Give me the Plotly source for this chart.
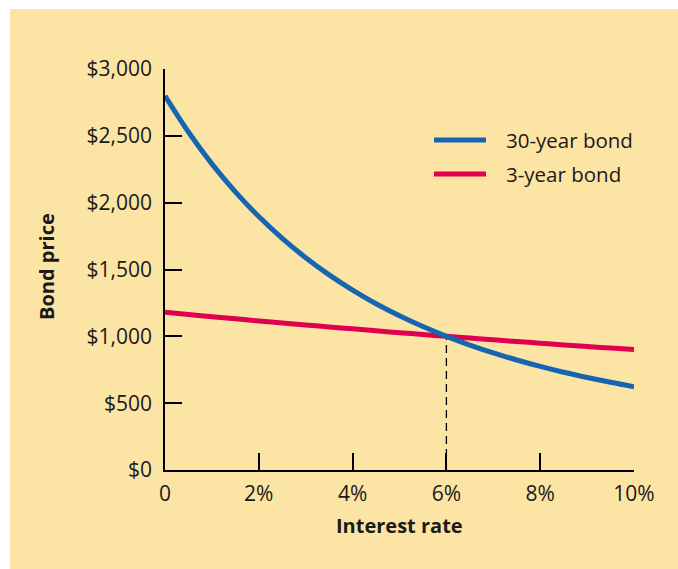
import plotly.graph_objects as go

# Interest rates (percent) and bond prices for a 6% coupon, $1,000 face bond
rates = [0, 0.5, 1, 1.5, 2, 2.5, 3, 3.5, 4, 4.5, 5, 5.5, 6, 6.5, 7, 7.5, 8, 8.5, 9, 9.5, 10]
price_30yr = [2800, 2529, 2290, 2081, 1896, 1733, 1588, 1460, 1346, 1244, 1154, 1073, 1000,
              935, 876, 823, 775, 731, 692, 656, 623]
price_3yr = [1180, 1163, 1147, 1131, 1115, 1100, 1085, 1070, 1056, 1041, 1027, 1014, 1000,
             987, 974, 961, 949, 936, 924, 912, 901]

x_ticks = [0, 2, 4, 6, 8, 10]
x_labels = ["0", "2%", "4%", "6%", "8%", "10%"]
y_ticks = [0, 500, 1000, 1500, 2000, 2500, 3000]
y_labels = ["$0", "$500", "$1,000", "$1,500", "$2,000", "$2,500", "$3,000"]

par_rate = 6
par_price = 1000

BG = "#FCE4A5"
BLUE = "#1565B2"
RED = "#E1004F"
INK = "#1a1a1a"
FONT = "Open Sans, Liberation Sans, Arial, sans-serif"

# plot area in pixels: left 165, right 634, top 69, bottom 470
PL, PR, PT, PB = 165, 634, 69, 470
PW, PH = PR - PL, PB - PT


def px(xp):
    return (xp - PL) / PW


def py(yp):
    return (PB - yp) / PH


fig = go.Figure()

# dashed drop line at the coupon rate
fig.add_trace(go.Scatter(
    x=[par_rate, par_rate], y=[0, par_price], mode="lines",
    line=dict(color="black", width=1.3, dash="8px,5px"),
    showlegend=False, hoverinfo="skip"))

fig.add_trace(go.Scatter(
    x=rates, y=price_3yr, mode="lines", name="3-year bond",
    line=dict(color=RED, width=5, shape="spline"), showlegend=False))
fig.add_trace(go.Scatter(
    x=rates, y=price_30yr, mode="lines", name="30-year bond",
    line=dict(color=BLUE, width=5, shape="spline"), showlegend=False))

# legend drawn as sample lines with labels
legend_items = [("30-year bond", BLUE, 140), ("3-year bond", RED, 174)]
for label, color, ypix in legend_items:
    fig.add_shape(type="line", xref="paper", yref="paper",
                  x0=px(434), x1=px(486), y0=py(ypix), y1=py(ypix),
                  line=dict(color=color, width=5))
    fig.add_annotation(text=label, xref="paper", yref="paper",
                       x=px(504), y=py(ypix),
                       xanchor="left", yanchor="middle", showarrow=False,
                       font=dict(family=FONT, size=20.5, color=INK))

# axis titles
fig.add_annotation(text="<b>Interest rate</b>", xref="paper", yref="paper",
                   x=0.5, y=py(525), xanchor="center", yanchor="middle",
                   showarrow=False, font=dict(family=FONT, size=20, color=INK))
fig.add_annotation(text="<b>Bond price</b>", xref="paper", yref="paper",
                   x=px(46), y=py(267), xanchor="center", yanchor="middle",
                   textangle=-90, showarrow=False,
                   font=dict(family=FONT, size=20, color=INK))

# white margin strips around the panel
fig.add_shape(type="rect", xref="paper", yref="paper", layer="below",
              x0=px(-20), x1=px(700), y0=py(9), y1=py(-20),
              fillcolor="white", line=dict(width=0))
fig.add_shape(type="rect", xref="paper", yref="paper", layer="below",
              x0=px(-20), x1=px(10), y0=py(600), y1=py(-20),
              fillcolor="white", line=dict(width=0))

fig.update_layout(
    width=678, height=569,
    margin=dict(l=PL, r=678 - PR, t=PT, b=569 - PB),
    paper_bgcolor=BG, plot_bgcolor=BG,
    font=dict(family=FONT, size=21, color=INK),
    showlegend=False,
    xaxis=dict(
        range=[0, 10], tickvals=x_ticks, ticktext=x_labels,
        ticks="inside", ticklen=17, tickwidth=1.5, tickcolor="black",
        showline=True, linecolor="black", linewidth=1.5,
        showgrid=False, zeroline=False, ticklabelstandoff=4,
        tickfont=dict(family=FONT, size=21, color=INK),
    ),
    yaxis=dict(
        range=[0, 3000], tickvals=y_ticks, ticktext=y_labels,
        ticks="inside", ticklen=17, tickwidth=1.5, tickcolor="black",
        showline=True, linecolor="black", linewidth=1.5,
        showgrid=False, zeroline=False, ticklabelstandoff=7,
        tickfont=dict(family=FONT, size=21, color=INK),
    ),
)

fig.write_html("out.html")
